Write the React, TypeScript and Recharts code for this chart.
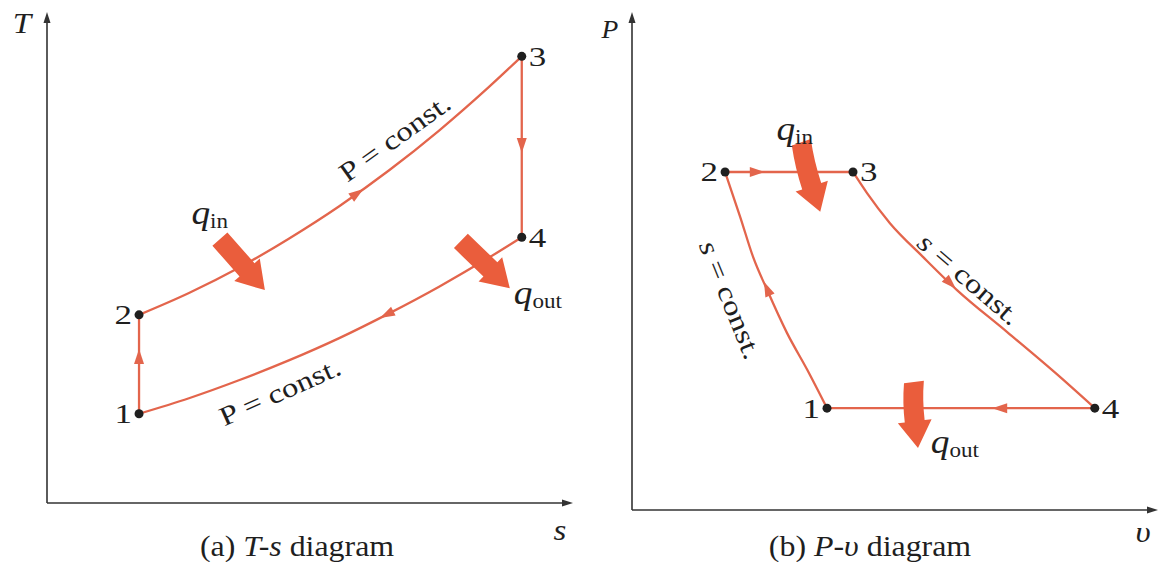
import React from 'react';
import { ComposedChart, Line, Scatter, XAxis, YAxis } from 'recharts';

const CURVE = '#e3654c';
const HEAT = '#ea5d3c';
const INK = '#1f1f1f';
const AXIS = '#333';
const SERIF = '"Liberation Serif", "Times New Roman", serif';

// ---- (a) T-s diagram (s, T in arbitrary units 0..100)
const tsStates = [
  { id: '1', x: 17.7, y: 18.4 },
  { id: '2', x: 17.7, y: 38.8 },
  { id: '3', x: 91.3, y: 92.1 },
  { id: '4', x: 91.3, y: 54.8 },
];
const tsCompression = [{ x: 17.7, y: 18.4 }, { x: 17.7, y: 38.8 }];
const tsHighP = [
  { x: 17.7, y: 38.8 }, { x: 27.3, y: 43.3 }, { x: 36.9, y: 48.5 },
  { x: 46.5, y: 54.5 }, { x: 56.2, y: 61.2 }, { x: 65.8, y: 68.6 },
  { x: 75.4, y: 76.8 }, { x: 85.0, y: 85.8 }, { x: 91.3, y: 92.1 },
];
const tsExpansion = [{ x: 91.3, y: 92.1 }, { x: 91.3, y: 54.8 }];
const tsLowP = [
  { x: 17.7, y: 18.4 }, { x: 27.3, y: 21.6 }, { x: 36.9, y: 25.3 },
  { x: 46.5, y: 29.4 }, { x: 56.2, y: 34.0 }, { x: 65.8, y: 39.1 },
  { x: 75.4, y: 44.6 }, { x: 85.0, y: 50.6 }, { x: 91.3, y: 54.8 },
];
const tsFlow = [{ x: 17.7, y: 30.1 }, { x: 59.6, y: 63.8 }, { x: 91.3, y: 73.8 }, { x: 65.4, y: 38.9 }];
const tsFlowHeading = [-90, -35.5, 90, 153];
const tsHeat = [{ x: 41.9, y: 43.9 }, { x: 89.0, y: 44.3 }]; // arrow tips: q_in, q_out
const tsHeatStyle = [{ heading: 48.6, length: 68, bend: 0 }, { heading: 44, length: 68, bend: 0 }];
const tsNotes = [
  { x: 66.9, y: 75.3, text: 'P = const.' },
  { x: 44.8, y: 22.9, text: 'P = const.' },
  { x: 31.3, y: 59.0, text: 'q', sub: 'in' },
  { x: 94.4, y: 42.5, text: 'q', sub: 'out' },
];
const tsNoteAngle = [-35.6, -24, 0, 0];

// ---- (b) P-v diagram
const pvStates = [
  { id: '1', x: 37.5, y: 20.7 },
  { id: '2', x: 17.9, y: 68.7 },
  { id: '3', x: 42.5, y: 68.7 },
  { id: '4', x: 89.0, y: 20.7 },
];
const pvCompression = [
  { x: 17.9, y: 68.7 }, { x: 20.8, y: 59.6 }, { x: 23.3, y: 51.4 },
  { x: 26.0, y: 44.7 }, { x: 29.8, y: 36.0 }, { x: 33.7, y: 28.5 }, { x: 37.5, y: 20.7 },
];
const pvHeatIn = [{ x: 17.9, y: 68.7 }, { x: 42.5, y: 68.7 }];
const pvExpansion = [
  { x: 42.5, y: 68.7 }, { x: 45.2, y: 64.4 }, { x: 49.6, y: 58.3 }, { x: 56.0, y: 51.4 },
  { x: 62.5, y: 44.7 }, { x: 72.1, y: 36.2 }, { x: 81.7, y: 27.6 }, { x: 89.0, y: 20.7 },
];
const pvHeatOut = [{ x: 37.5, y: 20.7 }, { x: 89.0, y: 20.7 }];
const pvFlow = [{ x: 24.0, y: 68.7 }, { x: 61.2, y: 46.1 }, { x: 70.8, y: 20.7 }, { x: 26.0, y: 44.9 }];
const pvFlowHeading = [0, 45, 180, -113.5];
const pvHeat = [{ x: 36.2, y: 60.6 }, { x: 55.0, y: 12.6 }];
const pvHeatStyle = [{ heading: 71.6, length: 72, bend: -4 }, { heading: 83, length: 66, bend: -4 }];
const pvNotes = [
  { x: 18.9, y: 42.7, text: 's = const.' },
  { x: 64.8, y: 46.9, text: 's = const.' },
  { x: 31.3, y: 76.6, text: 'q', sub: 'in' },
  { x: 62.1, y: 13.0, text: 'q', sub: 'out' },
];
const pvNoteAngle = [68, 40.6, 0, 0];

// axis lines of both panels
const xAxisLine = [{ x: 0, y: 0 }, { x: 100, y: 0 }];
const yAxisLine = [{ x: 0, y: 0 }, { x: 0, y: 100 }];
const axisTips = [{ x: 100, y: 0, heading: 0 }, { x: 0, y: 100, heading: -90 }];

const Txt = ({ x, y, angle = 0, stretch = 1.15, size = 28, anchor = 'middle', italic = false, baseline, children }: any) => (
  <g transform={`translate(${x},${y}) rotate(${angle}) scale(${stretch},1)`}>
    <text
      x={0}
      y={0}
      textAnchor={anchor}
      dominantBaseline={baseline}
      fontFamily={SERIF}
      fontSize={size}
      fontStyle={italic ? 'italic' : 'normal'}
      fill={INK}
    >
      {children}
    </text>
  </g>
);

const StateDot = ({ cx, cy, payload }: any) => {
  const left = payload.id === '1' || payload.id === '2';
  return (
    <g>
      <circle cx={cx} cy={cy} r={4.5} fill={INK} />
      <Txt x={left ? cx - 7 : cx + 7} y={cy + 9.5} anchor={left ? 'end' : 'start'} stretch={1.25}>
        {payload.id}
      </Txt>
    </g>
  );
};

const FlowHead = ({ cx, cy, payload }: any) => (
  <path d="M 8 0 L -7 -5 L -7 5 Z" transform={`translate(${cx},${cy}) rotate(${payload.heading})`} fill={CURVE} />
);

const AxisHead = ({ cx, cy, payload }: any) => (
  <path d="M 6 0 L -5 -3.5 L -5 3.5 Z" transform={`translate(${cx},${cy}) rotate(${payload.heading})`} fill={AXIS} />
);

// block arrow for heat transfer, tip at the data point
const HeatArrow = ({ cx, cy, payload }: any) => {
  const { heading, length: L, bend: b } = payload;
  const h = 27, w = 10, H = 17;
  const m = -(h + L) / 2;
  const d = `M 0 0 L ${-h} ${-H} L ${-h} ${-w} Q ${m} ${-w} ${-L} ${b - w} L ${-L} ${b + w} Q ${m} ${w} ${-h} ${w} L ${-h} ${H} Z`;
  return <path d={d} transform={`translate(${cx},${cy}) rotate(${heading})`} fill={HEAT} />;
};

const Note = ({ cx, cy, payload }: any) => {
  if (payload.sub) {
    return (
      <Txt x={cx} y={cy + 7} stretch={1.1}>
        <tspan fontStyle="italic" fontSize={34}>{payload.text}</tspan>
        <tspan fontSize={21} dy={4}>{payload.sub}</tspan>
      </Txt>
    );
  }
  const isP = payload.text.startsWith('P');
  return (
    <Txt x={cx} y={cy} angle={payload.angle} size={27} stretch={1.22} baseline="central">
      {isP ? 'P = const.' : <><tspan fontStyle="italic">s</tspan> = const.</>}
    </Txt>
  );
};

// axis names and caption, placed relative to the origin of the panel
const frameShape = (f: any) => ({ cx, cy }: any) => (
  <g>
    <Txt x={cx + f.y.dx} y={cy + f.y.dy} italic size={f.y.size} stretch={1.1}>{f.y.text}</Txt>
    <Txt x={cx + f.x.dx} y={cy + f.x.dy} italic size={30} stretch={1.1}>{f.x.text}</Txt>
    <Txt x={cx + f.caption.dx} y={cy + f.caption.dy} size={29} stretch={1.1}>
      {f.caption.tag} <tspan fontStyle="italic">{f.caption.vars}</tspan> diagram
    </Txt>
  </g>
);

const Panel = ({ width, margin, paths, states, flow, heat, notes, frame }: any) => (
  <ComposedChart width={width} height={562} margin={margin}>
    <XAxis type="number" dataKey="x" domain={[0, 100]} hide />
    <YAxis type="number" dataKey="y" domain={[0, 100]} hide />
    <Line data={xAxisLine} dataKey="y" type="linear" stroke={AXIS} strokeWidth={1.6} dot={false} activeDot={false} isAnimationActive={false} />
    <Line data={yAxisLine} dataKey="y" type="linear" stroke={AXIS} strokeWidth={1.6} dot={false} activeDot={false} isAnimationActive={false} />
    {paths.map((p: any, i: number) => (
      <Line key={i} data={p.data} dataKey="y" type={p.curved ? 'monotone' : 'linear'} stroke={CURVE} strokeWidth={2.3} dot={false} activeDot={false} isAnimationActive={false} />
    ))}
    <Scatter data={axisTips} shape={<AxisHead />} isAnimationActive={false} />
    <Scatter data={[{ x: 0, y: 0 }]} shape={frameShape(frame)} isAnimationActive={false} />
    <Scatter data={flow} shape={<FlowHead />} isAnimationActive={false} />
    <Scatter data={heat} shape={<HeatArrow />} isAnimationActive={false} />
    <Scatter data={states} shape={<StateDot />} isAnimationActive={false} />
    <Scatter data={notes} shape={<Note />} isAnimationActive={false} />
  </ComposedChart>
);

export default function App() {
  return (
    <div style={{ position: 'absolute', left: 0, top: 0, width: 1166, height: 562, background: '#fff' }}>
      <div style={{ position: 'absolute', left: 0, top: 0 }}>
        <Panel
          width={600}
          margin={{ top: 18, right: 33, bottom: 59, left: 47 }}
          paths={[
            { data: tsCompression },
            { data: tsHighP, curved: true },
            { data: tsExpansion },
            { data: tsLowP, curved: true },
          ]}
          states={tsStates}
          flow={tsFlow.map((p, i) => ({ ...p, heading: tsFlowHeading[i] }))}
          heat={tsHeat.map((p, i) => ({ ...p, ...tsHeatStyle[i] }))}
          notes={tsNotes.map((p, i) => ({ ...p, angle: tsNoteAngle[i] }))}
          frame={{
            y: { text: 'T', dx: -25, dy: -470, size: 30 },
            x: { text: 's', dx: 513, dy: 37 },
            caption: { tag: '(a)', vars: 'T-s', dx: 250, dy: 53 },
          }}
        />
      </div>
      <div style={{ position: 'absolute', left: 583, top: 0 }}>
        <Panel
          width={583}
          margin={{ top: 18, right: 14, bottom: 52, left: 49 }}
          paths={[
            { data: pvCompression, curved: true },
            { data: pvHeatIn },
            { data: pvExpansion, curved: true },
            { data: pvHeatOut },
          ]}
          states={pvStates}
          flow={pvFlow.map((p, i) => ({ ...p, heading: pvFlowHeading[i] }))}
          heat={pvHeat.map((p, i) => ({ ...p, ...pvHeatStyle[i] }))}
          notes={pvNotes.map((p, i) => ({ ...p, angle: pvNoteAngle[i] }))}
          frame={{
            y: { text: 'P', dx: -22, dy: -472, size: 25 },
            x: { text: 'υ', dx: 511, dy: 32 },
            caption: { tag: '(b)', vars: 'P-υ', dx: 238, dy: 46 },
          }}
        />
      </div>
    </div>
  );
}
